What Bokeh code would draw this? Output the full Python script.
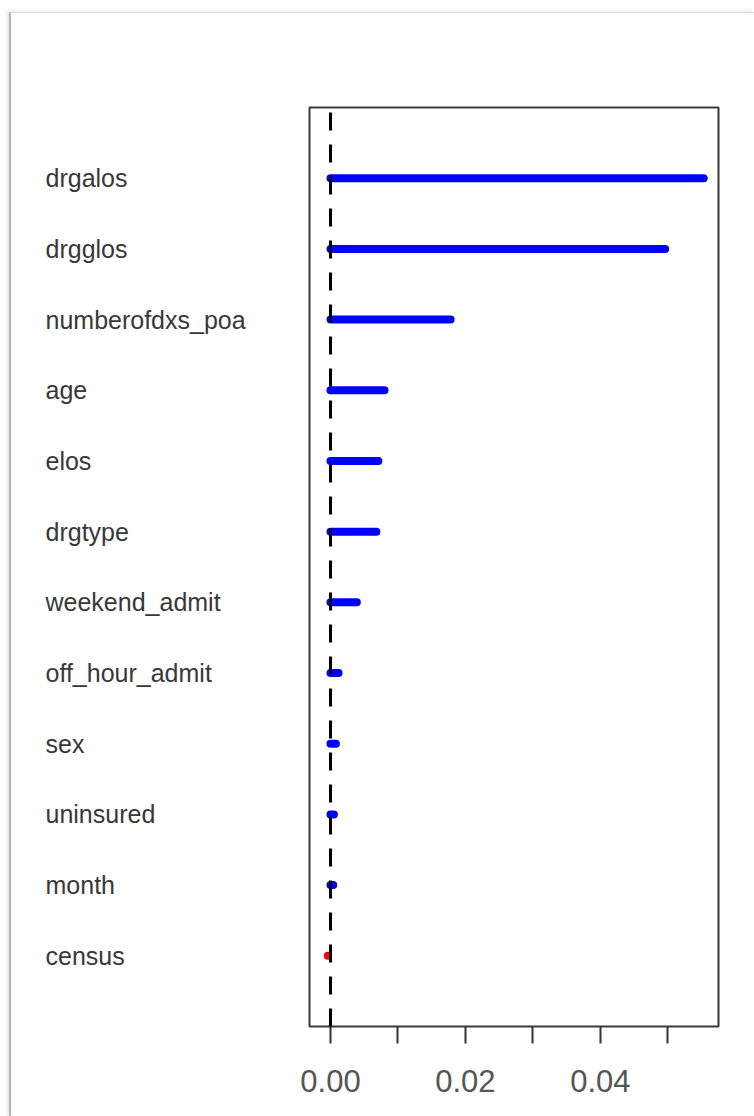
from bokeh.plotting import figure
from bokeh.models import Span, FixedTicker, ColumnDataSource, Range1d
from bokeh.layouts import row
from bokeh.core.properties import value
from bokeh.embed import file_html
from bokeh.resources import INLINE

variables = ["drgalos", "drgglos", "numberofdxs_poa", "age", "elos", "drgtype",
             "weekend_admit", "off_hour_admit", "sex", "uninsured", "month", "census"]
importance = [0.0553, 0.0496, 0.0178, 0.0080, 0.0071, 0.0068,
              0.0039, 0.0012, 0.0008, 0.0005, 0.0004, -0.0004]
x_ticks = [0.00, 0.01, 0.02, 0.03, 0.04, 0.05]
x_tick_labels = {0.00: "0.00", 0.01: "", 0.02: "0.02", 0.03: "", 0.04: "0.04", 0.05: ""}

n = len(variables)
rows = [n - i for i in range(n)]
colors = ["#0000ff" if v > 0 else "#ff0000" for v in importance]
x0 = [0.0 if v > 0 else v for v in importance]
label_x = [34] * n

src = ColumnDataSource(dict(name=variables, val=importance, row=rows, color=colors,
                            x0=x0, lx=label_x))
yr = Range1d(0, 13)

# left panel: variable names
L = figure(width=278, height=1103, output_backend="svg", toolbar_location=None,
           x_range=Range1d(0, 278), y_range=yr,
           min_border_left=0, min_border_right=0, min_border_top=94, min_border_bottom=90)
L.axis.visible = False
L.grid.visible = False
L.outline_line_color = None
L.background_fill_color = "white"
L.border_fill_color = "white"
L.text(x="lx", y="row", text="name", source=src, text_font=value("Liberation Sans"),
       text_font_size="25px", text_color="#383838", text_baseline="middle",
       text_align="left")

# right panel: importance plot
p = figure(width=465, height=1103, output_backend="svg", toolbar_location=None,
           x_range=Range1d(-0.00311, 0.0575), y_range=yr,
           min_border_left=20, min_border_right=36, min_border_top=94, min_border_bottom=90)
p.background_fill_color = "white"
p.border_fill_color = "white"
p.grid.visible = False
p.outline_line_color = "#3a3a3a"
p.outline_line_width = 2
p.yaxis.visible = False

p.segment(x0="x0", x1="val", y0="row", y1="row", source=src, line_color="color",
          line_width=8, line_cap="round")

p.add_layout(Span(location=0, dimension="height", line_color="black",
                  line_width=3, line_dash="18 14", line_dash_offset=27))

ax = p.xaxis[0]
ax.ticker = FixedTicker(ticks=x_ticks)
ax.major_label_overrides = x_tick_labels
ax.axis_line_color = None
ax.minor_tick_line_color = None
ax.major_tick_in = 0
ax.major_tick_out = 17
ax.major_tick_line_width = 2
ax.major_tick_line_color = "#333333"
ax.major_label_text_font = "Liberation Sans"
ax.major_label_text_font_size = "31px"
ax.major_label_text_color = "#555555"
ax.major_label_standoff = 26

layout = row(L, p)
layout.margin = (12, 0, 0, 9)
layout.styles = {"border-left": "2px solid #b4b4b4", "border-top": "1px solid #dedede",
                 "box-shadow": "-2px -1px 3px #e6e6e6", "background": "white"}

open("out.html", "w").write(file_html(layout, INLINE))
